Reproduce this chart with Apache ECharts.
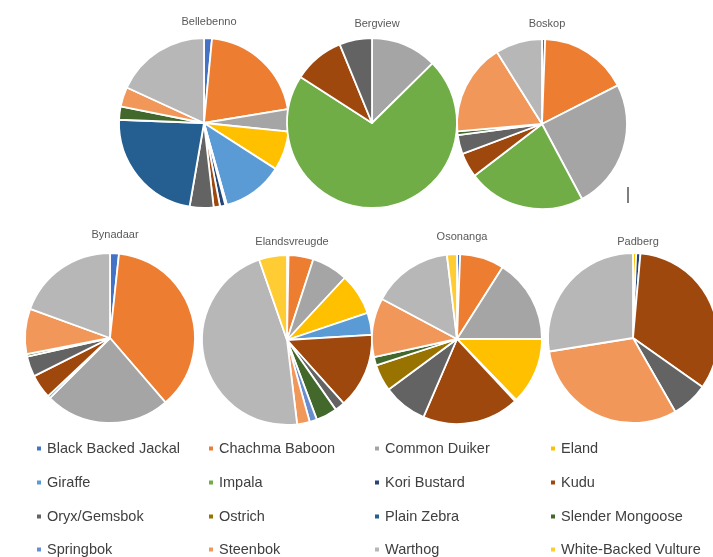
<!DOCTYPE html>
<html><head><meta charset="utf-8">
<script src="https://cdn.jsdelivr.net/npm/echarts@6/dist/echarts.min.js"></script>
<style>html,body{margin:0;padding:0;background:#fff}#c{width:713px;height:557px}</style>
</head><body><div id="c"></div>
<script>
const categories = ['Black Backed Jackal','Chachma Baboon','Common Duiker','Eland','Giraffe','Impala','Kori Bustard','Kudu','Oryx/Gemsbok','Ostrich','Plain Zebra','Slender Mongoose','Springbok','Steenbok','Warthog','White-Backed Vulture'];
const colors = ['#4472C4','#ED7D31','#A5A5A5','#FFC000','#5B9BD5','#70AD47','#264478','#9E480E','#636363','#997300','#255E91','#43682B','#698ED0','#F1975A','#B7B7B7','#FFCD33'];
const sites = ['Bellebenno','Bergview','Boskop','Bynadaar','Elandsvreugde','Osonanga','Padberg'];
// values per site in category order (percent shares)
const bellebenno    = [1.5,20.7,4.2,7.4,11.5,0.3,1.0,1.2,4.5,0,22.7,2.5,0,3.7,18.0,0];
const bergview      = [0,0,12.6,0,0,71.5,0,9.7,6.2,0,0,0,0,0,0,0];
const boskop        = [0.6,16.9,24.7,0,0,22.4,0,4.7,3.6,0,0,0.7,0,17.5,8.9,0];
const bynadaar      = [1.7,37.1,23.9,0,0.5,0,0,4.6,3.9,0,0,0.5,0,8.6,19.5,0];
const elandsvreugde = [0.3,4.7,6.9,7.9,4.2,0,0,14.3,1.9,0,0,4.0,1.4,2.4,46.5,5.3];
const osonanga      = [0.6,8.4,16.0,12.7,0.3,0,0,18.4,8.4,5.1,0,1.6,0,11.2,15.3,1.9];
const padberg       = [0,0,0,0.6,0,0,0.8,33.2,6.9,0,0,0,0,30.6,27.4,0];
const siteValues = [bellebenno,bergview,boskop,bynadaar,elandsvreugde,osonanga,padberg];

const centers = [[204,123],[372,123],[542,124],[110,338],[287,340],[457,339],[633,338]];
const titleTops = [11,13,13,224,231,226,231];
const legendCols = [30,202,368,544];
const legendRows = [436,470,504,537];

const FONT = '"Liberation Sans",sans-serif';

const series = siteValues.map((vals,si)=>({
  type:'pie', name:sites[si], center:centers[si], radius:85, startAngle:90, clockwise:true,
  label:{show:false}, labelLine:{show:false}, silent:true, animation:false,
  itemStyle:{borderColor:'#fff',borderWidth:1.8},
  data:vals.map((v,i)=>({name:categories[i],value:v,itemStyle:{color:colors[i]}})).filter(d=>d.value>0)
}));

const titles = sites.map((s,si)=>({
  text:s, left:centers[si][0], top:titleTops[si], textAlign:'center',
  textStyle:{fontSize:11,fontWeight:'normal',color:'#595959',fontFamily:'"Liberation Sans",sans-serif'}
}));

const legends = categories.map((c,i)=>({
  data:[c], left:legendCols[i%4], top:legendRows[Math.floor(i/4)], orient:'horizontal',
  icon:'rect', itemWidth:6, itemHeight:6, itemGap:6, selectedMode:false,
  textStyle:{fontSize:14.5,color:'#404040',fontFamily:FONT}
}));

const chart = echarts.init(document.getElementById('c'));
chart.setOption({
  animation:false,
  color:colors,
  title:titles,
  legend:legends,
  series:series,
  graphic:[{type:'line',shape:{x1:628,y1:187,x2:628,y2:203},style:{stroke:'#555',lineWidth:1.5}}]
});
</script></body></html>
